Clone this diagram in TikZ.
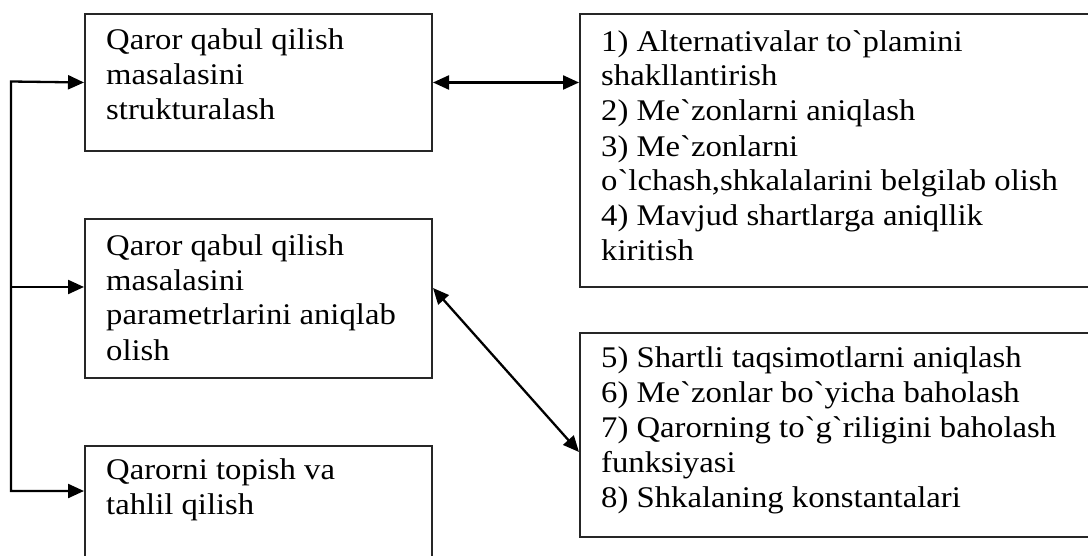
\documentclass[tikz,border=0pt]{standalone}
\usepackage{fontspec}
\setmainfont{Liberation Serif}[Ligatures=TeXOff,FakeStretch=1.09]
\usetikzlibrary{arrows.meta,calc}
\begin{document}
\begin{tikzpicture}[x=1pt,y=-1pt,
  box/.style={draw=black!85,line width=2pt,inner sep=0pt,anchor=north west},
  txt/.style={anchor=base west,inner sep=0pt,align=left,font=\fontsize{30pt}{35pt}\selectfont},
  arr/.style={line width=2.3pt,line join=miter,-{Triangle[length=16pt,width=14pt]}},
  darr/.style={line width=2.3pt,line join=miter,{Triangle[length=16pt,width=14pt]}-{Triangle[length=16pt,width=14pt]}}]
\useasboundingbox (0,0) rectangle (1088,556);
\clip (0,0) rectangle (1088,556);
\fill[white] (0,0) rectangle (1088,556);
% boxes
\node[box,minimum width=347pt,minimum height=137pt] (b1) at (84,13) {};
\node[box,minimum width=347pt,minimum height=159pt] (b2) at (84,218) {};
\node[box,minimum width=347pt,minimum height=140pt] (b3) at (84,445) {};
\node[box,minimum width=520pt,minimum height=273pt] (r1) at (579,13) {};
\node[box,minimum width=520pt,minimum height=204pt] (r2) at (579,332) {};
% texts (anchored at the baseline of their last line)
\node[txt] (t1) at (106,120) {Qaror qabul qilish\\masalasini\\strukturalash};
\node[txt] (t2) at (106,360) {Qaror qabul qilish\\masalasini\\parametrlarini aniqlab\\olish};
\node[txt] (t3) at (106,514) {Qarorni topish va\\tahlil qilish};
\node[txt] (t4) at (601,261) {1) Alternativalar to`plamini\\shakllantirish\\2) Me`zonlarni aniqlash\\3) Me`zonlarni\\o`lchash,shkalalarini belgilab olish\\4) Mavjud shartlarga aniqllik\\kiritish};
\node[txt] (t5) at (601,507) {5) Shartli taqsimotlarni aniqlash\\6) Me`zonlar bo`yicha baholash\\7) Qarorning to`g`riligini baholash\\funksiyasi\\8) Shkalaning konstantalari};
% connectors
\coordinate (c1) at (11,81.5);
\coordinate (c2) at (11,287);
\coordinate (c3) at (11,491);
\draw[darr] (b1.west) -- (c1) -- (c3) -- (c3 -| b3.west);
\draw[arr] (c2) -- (c2 -| b2.west);
\draw[darr] (b1.east) -- (b1.east -| r1.west);
\draw[darr] ([yshift=-70pt]b2.north east) -- ([yshift=-120pt]r2.north west);
\end{tikzpicture}
\end{document}
